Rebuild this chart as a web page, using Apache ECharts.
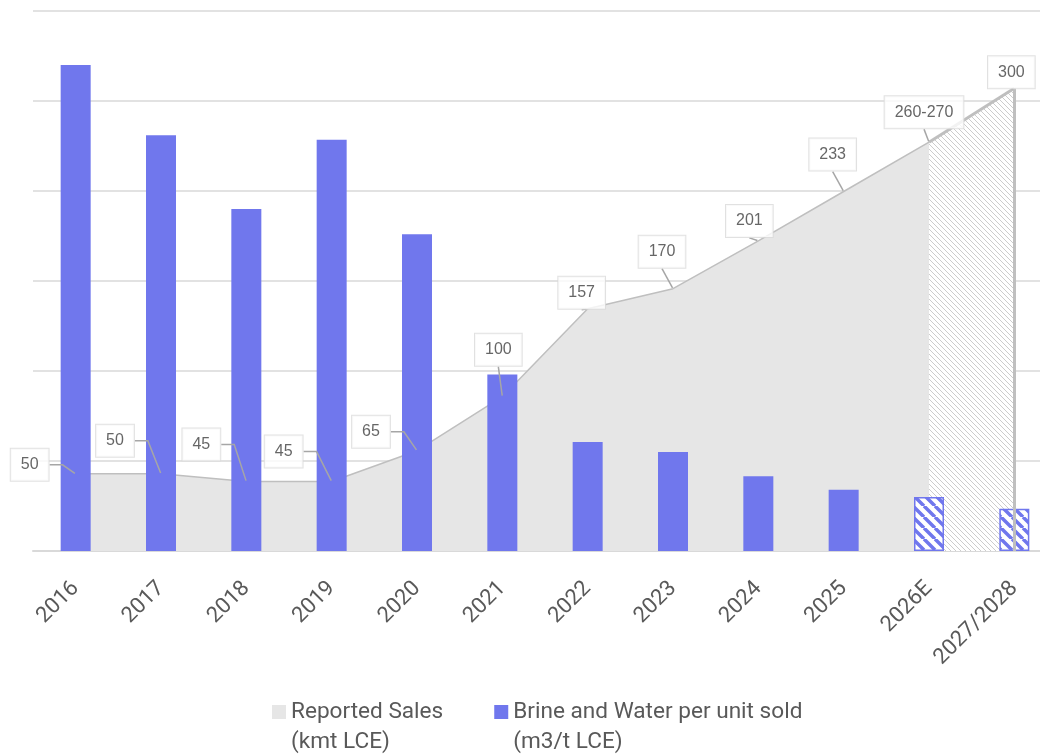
<!DOCTYPE html>
<html><head><meta charset="utf-8">
<script src="https://cdn.jsdelivr.net/npm/echarts@6/dist/echarts.min.js"></script>
<style>html,body{margin:0;padding:0;background:#fff}#c{width:1040px;height:755px}</style>
</head><body><div id="c"></div>
<script>
// ---- data ----
const categories = ['2016','2017','2018','2019','2020','2021','2022','2023','2024','2025','2026E','2027/2028'];
const brineWater = [540, 462, 380, 457, 352, 196, 121, 110, 83, 68, 60, 47];
const reportedSales = [50, 50, 45, 45, 65, 100, 157, 170, 201, 233, 265, 300];
const salesLabels = ['50','50','45','45','65','100','157','170','201','233','260-270','300'];
const firstEstimate = 10;
const salesName = 'Reported Sales\n(kmt LCE)';
const brineName = 'Brine and Water per unit sold\n(m3/t LCE)';

function stripes(size, lineW, color, bg){
  const c = document.createElement('canvas'); c.width = c.height = size;
  const g = c.getContext('2d');
  g.fillStyle = bg; g.fillRect(0,0,size,size);
  g.strokeStyle = color; g.lineWidth = lineW;
  g.beginPath();
  for (let k=-1;k<=1;k++){ g.moveTo(k*size,0); g.lineTo(k*size+size,size); }
  g.stroke();
  return c;
}
const barPat = {image: stripes(11, 3.5, '#7077ED', '#ffffff'), repeat:'repeat'};
const areaPat = {image: stripes(5, 1, '#cccccc', '#ffffff'), repeat:'repeat'};

const solidData = reportedSales.map((v,i)=> i<=firstEstimate ? v : '-');
const estData = reportedSales.map((v,i)=> i>=firstEstimate ? v : '-');
const barData = brineWater.map((v,i)=> i>=firstEstimate
  ? {value:v, itemStyle:{color:barPat, borderColor:'#7077ED', borderWidth:1.5}} : v);

// label placement (relative to point), px
const labelShift = [[-46,-9],[-46,-33],[-45,-37],[-48,-30],[-46,-19],[-4,-47],[-6,-16],[-11,-37],[-9,-20],[-11,-37],[-5,-30],[-3,-16]];
const labelData = reportedSales.map((v,i)=>({value:v, labelLine:{length2: i<5 ? 13 : 0}}));

const chart = echarts.init(document.getElementById('c'), null, {renderer:'canvas'});
chart.setOption({
  animation:false,
  grid:{left:33, right:-17, top:11, bottom:204, outerBoundsMode:'none', containLabel:false},
  xAxis:{type:'category', data:categories, boundaryGap:true,
    axisTick:{show:false},
    axisLine:{lineStyle:{color:'#d9d9d9', width:2}},
    axisLabel:{rotate:45, interval:0, fontSize:22, color:'#595959', fontFamily:'Roboto', margin:34}},
  yAxis:[
    {type:'value', min:0, max:600, interval:100, axisLabel:{show:false}, axisLine:{show:false}, axisTick:{show:false},
     splitLine:{lineStyle:{color:'#d9d9d9', width:1.5}}},
    {type:'value', min:0, max:350, show:false, splitLine:{show:false}}
  ],
  legend:{
    data:[{name:salesName, itemStyle:{color:'#e6e6e6'}},{name:brineName, itemStyle:{color:'#7077ED'}}],
    left:272, top:697, padding:0, itemGap:51, selectedMode:false,
    icon:'path://M0,0H14V14H0Z M0,43.95H0.05V44H0Z', itemWidth:14, itemHeight:44,
    itemStyle:{borderWidth:0},
    textStyle:{fontSize:22.6, lineHeight:30, color:'#595959', fontFamily:'Roboto'}
  },
  series:[
    {name:salesName, type:'line', yAxisIndex:1, data:solidData, symbol:'none', z:1, silent:true,
     lineStyle:{color:'#bfbfbf', width:1.5}, itemStyle:{color:'#e6e6e6'},
     areaStyle:{color:'#e6e6e6', opacity:1}},
    {name:'estimate', type:'line', yAxisIndex:1, data:estData, symbol:'none', z:1, silent:true,
     lineStyle:{color:'#bfbfbf', width:3}, areaStyle:{color:areaPat, opacity:1},
     markLine:{silent:true, symbol:['none','none'], label:{show:false},
       lineStyle:{color:'#bfbfbf', width:3, type:'solid'},
       data:[[{coord:[categories[11], 0]},{coord:[categories[11], reportedSales[11]]}]]}},
    {name:brineName, type:'bar', data:barData, barWidth:30, z:2, itemStyle:{color:'#7077ED'}},
    {type:'scatter', yAxisIndex:1, data:labelData, symbolSize:2, z:5, silent:true,
     itemStyle:{color:'rgba(0,0,0,0)'},
     label:{show:true, position:'inside', formatter:p=>salesLabels[p.dataIndex],
       fontSize:16, color:'#404040', fontFamily:'Liberation Sans, Arial',
       backgroundColor:'#ffffff', borderColor:'#d9d9d9', borderWidth:1, padding:[8,10]},
     labelLine:{show:true, lineStyle:{color:'#a6a6a6', width:1.5}},
     labelLayout:p=>({dx:labelShift[p.dataIndex][0], dy:labelShift[p.dataIndex][1]})}
  ]
});
</script></body></html>
